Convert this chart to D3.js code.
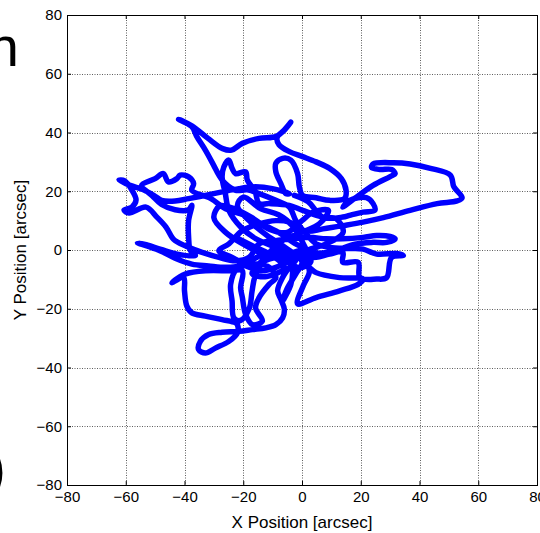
<!DOCTYPE html>
<html><head><meta charset="utf-8">
<script src="https://cdn.jsdelivr.net/npm/d3@7"></script>
<style>body{margin:0;background:#fff}svg{display:block}</style>
</head><body>
<svg id="chart" width="540" height="533"></svg>
<script>
const xTicks = [-80, -60, -40, -20, 0, 20, 40, 60, 80];
const yTicks = [-80, -60, -40, -20, 0, 20, 40, 60, 80];
const xLabel = "X Position [arcsec]";
const yLabel = "Y Position [arcsec]";
const sideTexts = ["n", ")"];
const trackPoints = [
  [-2.6,18.6],[2,16.5],[7.1,11.2],[13.9,11.2],[16.2,11.8],[20.8,12.9],[24.8,13.5],[24.2,15.8],[21.9,17.8],[16.2,16.9],[13.9,14.6],[18.5,18],[24.2,22],[30,25],[31.7,26],[30.5,27.4],[26.5,27.4],[23.7,28.1],[24.2,29.3],[31.1,29.7],[36.8,29.3],[43.7,27.8],[50.5,25.5],[51.7,21.5],[54.5,17.8],[52.8,16.7],[46,15.8],[36.8,13.5],[27.7,11],[20.8,9.5],[13.9,8.3],[7.1,7.2],[1.4,6.4],
  [-4.3,9.5],[-8.9,10],[-14.6,8.9],[-20.3,6.6],[-24.9,2.1],[-28.3,-0.2],[-23.8,-2.5],[-18,-5.9],[-13.5,-7.1],[-8.9,-5.9],[-4.3,-3.7],[0.2,-2.5],[4.8,-2.5],[9.4,-1.4],[13.9,-0.8],[13.9,-4.2],[19.1,-4.2],[19.7,-9.4],[25.4,-9.9],[28.8,-9.4],[30.5,-2.5],[34.5,-1.9],[32.2,-1.2],[25.4,-1.4],[20.8,0.3],[16,0.5],[9.4,0.9],[4.8,2.1],[1.4,5.5],[-2.1,10],[-4.3,14.6],[-8.9,16.9],[-14.6,19.2],[-18.6,20.5],
  [-22.6,20.3],[-26.1,22.6],[-28.3,25.5],[-30.1,28.9],[-32.9,34],[-35.8,38.6],[-37.5,42],[-42,44.5],[-37.5,42.3],[-32,38],[-27,34.5],[-24,34],[-20.3,36.3],[-14.6,38],[-8.9,38.6],[-6.6,40.3],[-3.8,43.5],[-6,40.8],[-8.5,38.2],[-7.8,35.8],[-4.3,33.5],[0.2,31.8],[4.8,30],[9.4,27.8],[13.4,24.3],[15,20.3],[14.5,17.5],[9.4,16.9],[4.8,17.8],[0.2,18.6],
  [-0.9,21.5],[-1.5,26],[-3.8,30.6],[-6.6,31.2],[-8.9,29.5],[-8.9,26.6],[-7.2,22.6],[-5.5,19.2],[-4.3,19.2],
  [-10.1,20.9],[-15.8,21.5],[-21.5,20.9],[-27.2,19.8],[-32.9,18.6],[-38.6,17.5],[-43.2,16.7],[-47.8,16.9],[-50,18.3],[-54,20.5],[-58.5,22],[-62.3,23.8],[-60.5,23.6],[-57.9,20.4],[-56.5,17],[-57.9,14.6],[-60.6,13.6],[-58.9,12.6],[-53.1,14.6],[-49.4,11.2],[-46.3,7.8],[-44.3,4.4],[-43.2,3.2],[-38.6,0.9],[-34,-0.8],[-28.3,-2.5],[-22.6,-3.7],[-18,-2.5],[-14.6,2.1],[-8.9,3.2],[-3.2,3.8],[2.5,4.3],[8.2,3.8],[13.9,3.8],[20.8,4.3],[25.4,4.9],[30,4.6],[31.7,3.8],[28.8,2.6],[24.2,2.6],[18,2],[11,-0.3],[5,-1],
  [-2,2],[-8,6],[-15,9.5],[-20,12],[-26,14],[-31,17.5],[-37.5,20.3],[-36.9,22.6],[-38.6,24.9],[-41.5,25.5],[-42.6,24.3],[-45.5,23.2],[-47.2,26],[-50,24.3],[-54.6,22],[-51,18.5],[-47.8,15.5],[-43.2,13.7],[-38.6,13.7],[-37.5,15.2],[-38.6,10.1],[-38.6,4.3],[-38,-0.2],[-36.3,-1.9],
  [-42,-1.5],[-48,0.2],[-53,1.8],[-56,2.4],[-52.3,1.2],[-47.8,-0.5],[-43.2,-2.8],[-37.5,-4.8],[-31.8,-5.4],[-26.1,-5.9],[-20.3,-5.4],[-14.6,-4.8],
  [-11,-6],[-8.9,-9.4],[-11.2,-11.7],[-14.6,-16.2],[-15.8,-19.7],[-13.5,-24.2],[-16.9,-25.4],[-19.2,-21.9],[-20.3,-16.2],[-20.9,-12.8],[-20.3,-7.1],[-24.9,-7.1],[-32.9,-7.1],[-39.8,-8.2],[-42,-9.4],[-44.3,-11.1],[-40.3,-9.4],[-40,-13.9],[-39.2,-19.1],[-37.5,-21.4],[-32.9,-22.5],[-27.2,-23.7],[-22.6,-24.8],[-22,-25.4],[-22,-28.2],[-24.9,-31.1],[-29.5,-33.4],[-32.9,-35.1],[-35.2,-33.9],[-34.6,-31.1],[-31.8,-28.8],[-27.2,-28],[-21.5,-27.7],[-16.9,-27.1],[-12.3,-26.5],[-8.9,-25.4],[-6.6,-23.1],[-6,-20.2],[-7.2,-16.8],[-8.3,-13.9],[-6.6,-9.4],[-4.3,-5.9],
  [-2,-3],[-6,-1],[-12,-1],[-18,-4],[-22,-6],[-24.3,-11.7],[-23.8,-17.4],[-23.2,-23.1],[-21,-24],[-18,-20],[-17,-14],[-16,-9],[-13,-4],
  [-6,-2],[0.2,-0.2],[1.5,-3.5],[2.5,-7.5],[0.5,-12],[-1.5,-18.3],[4.8,-16.2],[12.8,-13.9],[19.1,-11.7],[20.8,-9.9],[12.8,-9.4],[4.8,-7.7],[2.5,-5.9],
  [-3,-1],[-9,1],[-16,4],[-21,8],[-24.9,13.5],[-26.1,19.2],[-27.2,24.9],[-26.6,28.3],[-24.9,30.6],[-23.8,27.8],[-22.6,26],[-19.2,26.6],[-18.6,23.8],[-16,20],[-14.6,15.8],[-11.2,15.8],[-4.3,15.2],[0.2,13.5],[7.1,11.2],[11.7,10.6],[14,6],[8,2],[2,0],[-4,-2.5],[-3.2,-7.1],[-3.8,-11.7],[-6.6,-17.4],[-5,-13],[-2,-8],[0,-4],
  [-6,1],[-12,5],[-18,10],[-22,15],[-20,18],[-14,14],[-8,12],[-3,8],[1,1],[3,-4],[-1,-6],[-8,-2],[-14,-1],[-20,2],[-26,6],[-30,11],[-28,15],[-23,14],[-17,11],[-11,7],[-5,6],[0,10],[4,13],[9,13.5],[6,9],[0,6],[-7,3],[-13,-3],[-17,-8],[-12,-9],[-6,-6],[-10,-2],[-16,1],[-22,4]
];

const L = 67, R = 537, T = 15, B = 485;
const x = d3.scaleLinear().domain([-80, 80]).range([L, R]);
const y = d3.scaleLinear().domain([-80, 80]).range([B, T]);
const svg = d3.select("#chart");
const font = "'Liberation Sans', Arial, sans-serif";

// grid
const grid = svg.append("g").attr("stroke", "#5e5e5e").attr("stroke-width", 1).attr("stroke-dasharray", "1,1.5");
grid.selectAll(".gx").data(xTicks.slice(1, -1)).join("line")
  .attr("x1", d => Math.round(x(d)) + 0.5).attr("x2", d => Math.round(x(d)) + 0.5)
  .attr("y1", T).attr("y2", B);
grid.selectAll(".gy").data(yTicks.slice(1, -1)).join("line")
  .attr("y1", d => Math.round(y(d)) + 0.5).attr("y2", d => Math.round(y(d)) + 0.5)
  .attr("x1", L).attr("x2", R);

// trajectory
svg.append("clipPath").attr("id", "pa").append("rect")
  .attr("x", L).attr("y", T).attr("width", R - L).attr("height", B - T);
svg.append("path")
  .datum(trackPoints)
  .attr("clip-path", "url(#pa)")
  .attr("fill", "none").attr("stroke", "#0000ff").attr("stroke-width", 5.5)
  .attr("stroke-linejoin", "round").attr("stroke-linecap", "round")
  .attr("d", d3.line().x(d => x(d[0])).y(d => y(d[1])).curve(d3.curveCatmullRom.alpha(0.5)));

// axes
function styleAxis(g) {
  g.select(".domain").remove();
  g.selectAll("line").attr("stroke", "#000");
  g.selectAll("text").attr("font-family", font).attr("font-size", 15).attr("fill", "#000");
}
svg.append("g").attr("transform", `translate(0,${B})`)
  .call(d3.axisBottom(x).tickValues(xTicks).tickSizeInner(-4).tickSizeOuter(0).tickPadding(6).tickFormat(d3.format("d")))
  .call(styleAxis);
svg.append("g").attr("transform", `translate(${L},0)`)
  .call(d3.axisLeft(y).tickValues(yTicks).tickSizeInner(-4).tickSizeOuter(0).tickPadding(5).tickFormat(d3.format("d")))
  .call(styleAxis);
svg.append("g").attr("transform", `translate(0,${T})`)
  .call(d3.axisTop(x).tickValues(xTicks).tickSizeInner(-4).tickSizeOuter(0).tickFormat(""))
  .call(styleAxis);
svg.append("g").attr("transform", `translate(${R},0)`)
  .call(d3.axisRight(y).tickValues(yTicks).tickSizeInner(-4).tickSizeOuter(0).tickFormat(""))
  .call(styleAxis);

// frame
svg.append("rect").attr("x", L + 0.5).attr("y", T + 0.5).attr("width", R - L).attr("height", B - T)
  .attr("fill", "none").attr("stroke", "#000").attr("stroke-width", 1);

// labels
svg.append("text").attr("x", (L + R) / 2).attr("y", 528).attr("text-anchor", "middle")
  .attr("font-family", font).attr("font-size", 17).text(xLabel);
svg.append("text").attr("transform", `translate(26,${(T + B) / 2}) rotate(-90)`).attr("text-anchor", "middle")
  .attr("font-family", font).attr("font-size", 17).text(yLabel);

// cut-off text from neighbouring panel
svg.append("text").attr("x", 19).attr("y", 66).attr("text-anchor", "end")
  .attr("font-family", font).attr("font-size", 56).text(sideTexts[0]);
svg.append("text").attr("x", 6).attr("y", 487).attr("text-anchor", "end")
  .attr("font-family", font).attr("font-size", 56).text(sideTexts[1]);
</script>
</body></html>
